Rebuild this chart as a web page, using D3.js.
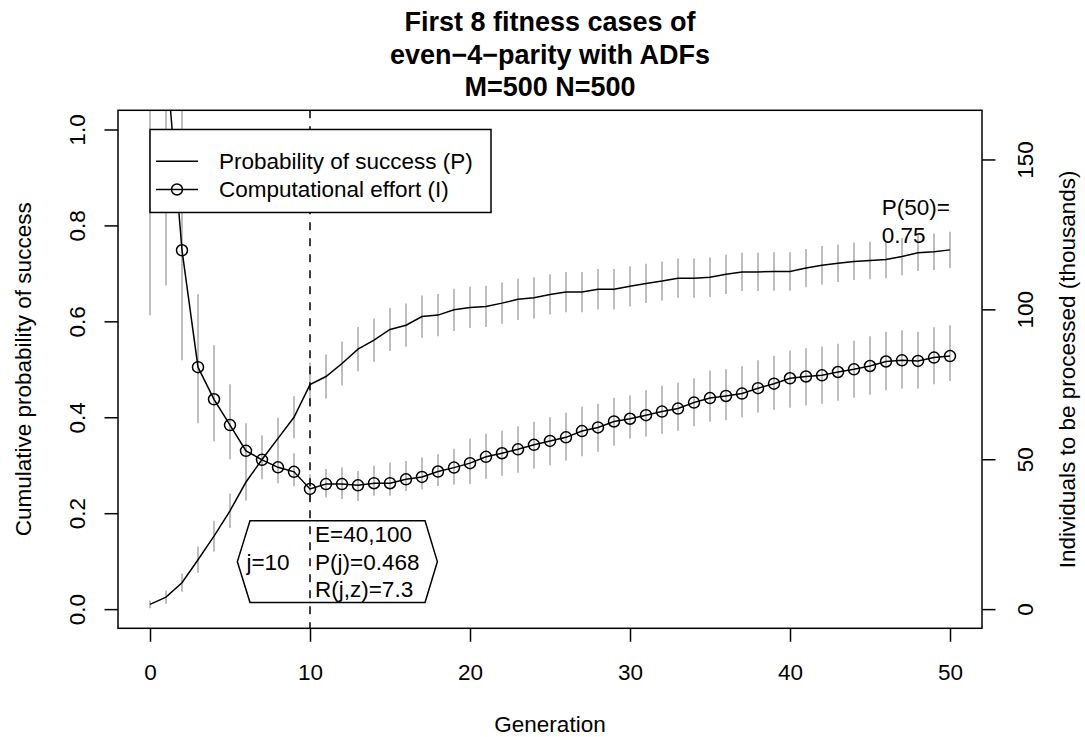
<!DOCTYPE html>
<html>
<head>
<meta charset="utf-8">
<script src="https://cdn.jsdelivr.net/npm/d3@7"></script>
<style>
  body { margin: 0; background: #fff; }
  text { font-family: "Liberation Sans", Arial, Helvetica, sans-serif; fill: #000; }
</style>
</head>
<body>
<div id="chart"></div>
<script>
// ---- data ----
const generations = [0,1,2,3,4,5,6,7,8,9,10,11,12,13,14,15,16,17,18,19,20,21,22,23,24,25,
  26,27,28,29,30,31,32,33,34,35,36,37,38,39,40,41,42,43,44,45,46,47,48,49,50];

// cumulative probability of success P(i)
const probability = [0.010,0.025,0.055,0.103,0.152,0.205,0.265,0.312,0.356,0.400,0.468,
  0.485,0.512,0.542,0.561,0.583,0.592,0.610,0.613,0.624,0.629,
  0.631,0.638,0.646,0.649,0.656,0.661,0.661,0.667,0.667,0.673,
  0.679,0.684,0.690,0.690,0.692,0.698,0.703,0.703,0.704,0.704,
  0.711,0.717,0.721,0.725,0.727,0.729,0.735,0.743,0.745,0.749];
// half length of the grey bars on P
const probErr = [0.008,0.014,0.019,0.027,0.032,0.036,0.039,0.041,0.043,0.044,0.046,
  0.046,0.046,0.046,0.045,0.045,0.045,0.044,0.044,0.044,0.043,
  0.043,0.043,0.043,0.043,0.042,0.042,0.042,0.042,0.042,0.042,
  0.041,0.041,0.041,0.041,0.041,0.041,0.040,0.040,0.040,0.040,
  0.040,0.040,0.039,0.039,0.039,0.039,0.039,0.038,0.038,0.038];

// computational effort I(M,i,z), thousands
const effort = [229,185,119.7,80.7,70.0,61.4,52.8,49.8,47.3,45.8,40.1,
  41.7,41.7,41.3,42.0,42.0,43.3,44.1,45.9,47.2,48.7,
  50.8,52.0,53.3,54.8,56.1,57.3,59.4,60.6,62.6,63.5,
  64.7,65.9,66.9,68.9,70.4,71.1,71.9,73.7,75.2,77.0,
  77.6,78.0,79.1,80.0,81.1,82.6,83.0,82.8,83.9,84.4];
const effortLow = [98,108,83,62,56,50,46,44,42,41,36.5,
  37.2,36.7,36.1,37.8,37.8,39.4,40.0,41.1,41.5,41.7,
  43.5,44.5,45.5,46.8,48.0,49.5,51.0,52.5,54.5,56.9,
  57.5,58.5,59.5,61.0,62.5,63.0,64.0,65.5,66.5,67.2,
  68.0,68.5,69.5,70.5,71.5,73.0,73.5,73.5,75.0,76.1];
const effortHigh = [400,350,180,105,88,75,62,58,54,52,45,
  46.7,47.2,46.1,47.8,48.9,49.4,50.6,51.7,53.5,56.9,
  58.5,59.5,61.0,62.5,64.0,65.5,67.5,68.5,70.5,71.3,
  73.0,74.5,75.5,77.0,79.5,80.0,81.0,83.0,84.5,86.3,
  87.0,87.5,88.5,89.5,91.0,92.5,93.0,92.5,94.0,94.7];

const xTicks = [0,10,20,30,40,50];
const leftTicks = [0,0.2,0.4,0.6,0.8,1.0];
const rightTicks = [0,50,100,150];

const titleLines = ["First 8 fitness cases of", "even\u22124\u2212parity with ADFs", "M=500 N=500"];
const legendLabels = ["Probability of success (P)", "Computational effort (I)"];
const bestGen = 10;
const bestLines = ["E=40,100", "P(j)=0.468", "R(j,z)=7.3"];
const lastLabel = ["P(50)=", "0.75"];

// ---- layout ----
const width = 1085, height = 737;
const margin = {top: 110.3, right: 103, bottom: 108.7, left: 118};
const x0 = margin.left, x1 = width - margin.right;
const y0 = margin.top, y1 = height - margin.bottom;
const fs = 22.5;

const svg = d3.select("#chart").append("svg")
  .attr("width", width).attr("height", height);

// scales (R style 4% padding)
const xScale = d3.scaleLinear().domain([-2, 52]).range([x0, x1]);
const yLeft = d3.scaleLinear().domain([-0.04, 1.04]).range([y1, y0]);
const yRight = d3.scaleLinear().domain([-6.4, 166.4]).range([y1, y0]);

svg.append("clipPath").attr("id", "plotclip")
  .append("rect").attr("x", x0).attr("y", y0).attr("width", x1 - x0).attr("height", y1 - y0);

const plot = svg.append("g").attr("clip-path", "url(#plotclip)");

// grey bars
plot.selectAll(".ebar").data(generations).enter().append("line")
  .attr("x1", d => xScale(d)).attr("x2", d => xScale(d))
  .attr("y1", (d, i) => yRight(effortLow[i]))
  .attr("y2", (d, i) => yRight(effortHigh[i]))
  .attr("stroke", "#bebebe").attr("stroke-width", 2);

plot.selectAll(".pbar").data(generations).enter().append("line")
  .attr("x1", d => xScale(d)).attr("x2", d => xScale(d))
  .attr("y1", (d, i) => yLeft(probability[i] - probErr[i]))
  .attr("y2", (d, i) => yLeft(probability[i] + probErr[i]))
  .attr("stroke", "#bebebe").attr("stroke-width", 2);

// lines
const pLine = d3.line().x(d => xScale(d)).y((d, i) => yLeft(probability[i]));
const eLine = d3.line().x(d => xScale(d)).y((d, i) => yRight(effort[i]));

plot.append("path").attr("d", pLine(generations))
  .attr("fill", "none").attr("stroke", "#000").attr("stroke-width", 1.5);
plot.append("path").attr("d", eLine(generations))
  .attr("fill", "none").attr("stroke", "#000").attr("stroke-width", 1.5);

plot.selectAll(".pt").data(generations).enter().append("circle")
  .attr("cx", d => xScale(d)).attr("cy", (d, i) => yRight(effort[i]))
  .attr("r", 5.5).attr("fill", "none").attr("stroke", "#000").attr("stroke-width", 1.5);

// dashed line at best generation
svg.append("line")
  .attr("x1", xScale(bestGen)).attr("x2", xScale(bestGen))
  .attr("y1", y0).attr("y2", y1)
  .attr("stroke", "#000").attr("stroke-width", 1.5).attr("stroke-dasharray", "8,8");

// box
svg.append("rect").attr("x", x0).attr("y", y0).attr("width", x1 - x0).attr("height", y1 - y0)
  .attr("fill", "none").attr("stroke", "#000").attr("stroke-width", 1.5);

// axes
const tick = 13.5;
const gx = svg.append("g").attr("transform", `translate(0,${y1})`)
  .call(d3.axisBottom(xScale).tickValues(xTicks).tickSize(tick).tickSizeOuter(0));
gx.selectAll(".tick text").attr("y", 43.4).attr("dy", "0.35em")
  .style("font-size", fs + "px").style("font-family", "Liberation Sans, Arial, sans-serif");

const gl = svg.append("g").attr("transform", `translate(${x0},0)`)
  .call(d3.axisLeft(yLeft).tickValues(leftTicks).tickFormat(d3.format(".1f")).tickSize(tick).tickSizeOuter(0));
gl.selectAll(".tick text").attr("transform", "rotate(-90)")
  .attr("x", 0).attr("y", -41.3).attr("dy", "0.35em").attr("text-anchor", "middle")
  .style("font-size", fs + "px").style("font-family", "Liberation Sans, Arial, sans-serif");

const gr = svg.append("g").attr("transform", `translate(${x1},0)`)
  .call(d3.axisRight(yRight).tickValues(rightTicks).tickSize(tick).tickSizeOuter(0));
gr.selectAll(".tick text").attr("transform", "rotate(-90)")
  .attr("x", 0).attr("y", 43).attr("dy", "0.35em").attr("text-anchor", "middle")
  .style("font-size", fs + "px").style("font-family", "Liberation Sans, Arial, sans-serif");

[gx, gl, gr].forEach(g => {
  g.select(".domain").remove();
  g.selectAll(".tick line").attr("stroke", "#000").attr("stroke-width", 1.5);
});

// axis titles
svg.append("text").attr("x", (x0 + x1) / 2).attr("y", 724).attr("dy", "0.35em")
  .attr("text-anchor", "middle").style("font-size", fs + "px").text("Generation");
svg.append("text")
  .attr("transform", `translate(22.7,${(y0 + y1) / 2}) rotate(-90)`)
  .attr("dy", "0.35em").attr("text-anchor", "middle").style("font-size", fs + "px")
  .text("Cumulative probability of success");
svg.append("text")
  .attr("transform", `translate(1067,${(y0 + y1) / 2}) rotate(-90)`)
  .attr("dy", "0.35em").attr("text-anchor", "middle").style("font-size", fs + "px")
  .text("Individuals to be processed (thousands)");

// title
svg.selectAll(".title").data(titleLines).enter().append("text")
  .attr("x", (x0 + x1) / 2).attr("y", (d, i) => 31 + i * 32.5)
  .attr("text-anchor", "middle").style("font-size", "27px").style("font-weight", "bold")
  .text(d => d);

// legend
const lg = svg.append("g").attr("transform", `translate(${xScale(0)},${yLeft(1)})`);
lg.append("rect").attr("width", 341).attr("height", 83)
  .attr("fill", "#fff").attr("stroke", "#000").attr("stroke-width", 1.5);
legendLabels.forEach((lab, i) => {
  const cy = 31.7 + i * 28.3;
  lg.append("line").attr("x1", 6).attr("x2", 48).attr("y1", cy).attr("y2", cy)
    .attr("stroke", "#000").attr("stroke-width", 1.5);
  if (i === 1) lg.append("circle").attr("cx", 27).attr("cy", cy).attr("r", 5.5)
    .attr("fill", "none").attr("stroke", "#000").attr("stroke-width", 1.5);
  lg.append("text").attr("x", 69).attr("y", cy).attr("dy", "0.35em")
    .style("font-size", fs + "px").text(lab);
});

// annotation box around best generation
const boxPts = [[5.46, 0.099], [6.25, 0.184], [17.19, 0.184], [17.96, 0.099], [17.19, 0.014], [6.25, 0.014]];
svg.append("polygon")
  .attr("points", boxPts.map(p => [xScale(p[0]), yLeft(p[1])].join(",")).join(" "))
  .attr("fill", "none").attr("stroke", "#000").attr("stroke-width", 1.5);
svg.append("text").attr("x", xScale(7.375)).attr("y", yLeft(0.099)).attr("dy", "0.35em")
  .attr("text-anchor", "middle").style("font-size", fs + "px").text("j=" + bestGen);
bestLines.forEach((t, i) => {
  svg.append("text").attr("x", xScale(bestGen) + 5).attr("y", yLeft(0.157 - i * 0.058)).attr("dy", "0.35em")
    .style("font-size", fs + "px").text(t);
});

// final value label
const l1 = svg.append("text").attr("x", xScale(50)).attr("y", yLeft(probability[50]) - 42.4)
  .attr("dy", "0.35em").attr("text-anchor", "end").style("font-size", fs + "px").text(lastLabel[0]);
const w1 = l1.node().getComputedTextLength();
svg.append("text").attr("x", xScale(50) - w1).attr("y", yLeft(probability[50]) - 14.7)
  .attr("dy", "0.35em").style("font-size", fs + "px").text(lastLabel[1]);
</script>
</body>
</html>
